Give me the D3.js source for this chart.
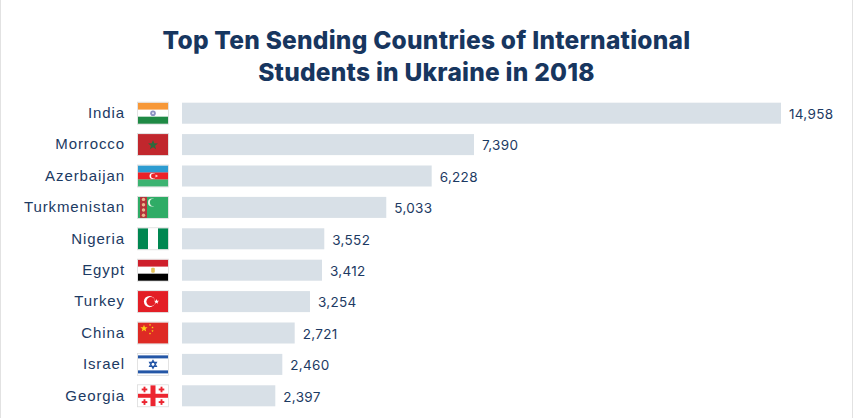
<!DOCTYPE html>
<html lang="en">
<head>
  <meta charset="UTF-8">
  <title>Top Ten Sending Countries of International Students in Ukraine in 2018</title>
  <script src="https://d3js.org/d3.v7.min.js"></script>
  <style>
    html, body { margin: 0; padding: 0; background: #fff; overflow: hidden; }
    svg { display: block; font-family: Inter, "Open Sans", sans-serif; }
    .title { font-size: 24.5px; font-weight: 800; fill: #17365f; text-anchor: middle; letter-spacing: 0.24px; }
    .axis text { font-size: 15px; font-weight: 500; fill: #1c3a63; letter-spacing: 0.9px; }
    .value { font-size: 13.5px; fill: #1c3a63; letter-spacing: 0.3px; }
  </style>
</head>
<body>
  <div id="chart"></div>
  <script>
    const countries = ["India", "Morrocco", "Azerbaijan", "Turkmenistan", "Nigeria", "Egypt", "Turkey", "China", "Israel", "Georgia"];
    // printed labels
    const students = [14958, 7390, 6228, 5033, 3552, 3412, 3254, 2721, 2460, 2397];
    // the bars in the original are not quite in proportion to their labels,
    // so the drawn lengths are read off the picture separately
    const barLengths = [14958, 7292, 6235, 5101, 3553, 3496, 3196, 2814, 2505, 2330];
    const titleLines = ["Top Ten Sending Countries of International", "Students in Ukraine in 2018"];

    const width = 854, height = 418;
    const flagW = 30, flagH = 21;

    const svg = d3.select("#chart").append("svg")
      .attr("width", width)
      .attr("height", height);

    // thin frame lines at the page edges
    svg.append("rect").attr("x", 0).attr("y", 0).attr("width", 1).attr("height", height).attr("fill", "#e2e2e2");
    svg.append("rect").attr("x", 852).attr("y", 0).attr("width", 1).attr("height", height).attr("fill", "#e2e2e2");

    svg.selectAll(".title")
      .data(titleLines)
      .enter().append("text")
      .attr("class", "title")
      .attr("x", 426.5)
      .attr("y", (d, i) => 49 + i * 32)
      .text(d => d);

    const x = d3.scaleLinear().domain([0, 14958]).range([182, 781]);
    const y = d3.scaleBand().domain(countries).range([97.5, 411.5]).paddingInner(0.33).paddingOuter(0.165);

    const axis = svg.append("g")
      .attr("class", "axis")
      .attr("transform", "translate(125,0)")
      .call(d3.axisLeft(y).tickSize(0).tickPadding(0));
    axis.select(".domain").remove();
    axis.selectAll("text").attr("dy", "0.32em");

    svg.selectAll(".bar")
      .data(countries)
      .enter().append("rect")
      .attr("class", "bar")
      .attr("x", x(0))
      .attr("y", d => y(d))
      .attr("width", (d, i) => x(barLengths[i]) - x(0))
      .attr("height", y.bandwidth())
      .attr("fill", "#d8e0e7");

    svg.selectAll(".value")
      .data(countries)
      .enter().append("text")
      .attr("class", "value")
      .attr("x", (d, i) => x(barLengths[i]) + 8)
      .attr("y", d => y(d) + y.bandwidth() / 2 + 1)
      .attr("dy", "0.35em")
      .text((d, i) => d3.format(",")(students[i]));

    // helpers for the little flags, all in a 30x21 box
    function stripes(g, colors) {
      const h = d3.scaleBand().domain(d3.range(colors.length)).range([0, flagH]);
      colors.forEach((c, i) => g.append("rect").attr("y", h(i)).attr("width", flagW).attr("height", h.bandwidth() + 0.2).attr("fill", c));
    }
    function vstripes(g, colors) {
      const w = d3.scaleBand().domain(d3.range(colors.length)).range([0, flagW]);
      colors.forEach((c, i) => g.append("rect").attr("x", w(i)).attr("width", w.bandwidth() + 0.2).attr("height", flagH).attr("fill", c));
    }
    function star(g, cx, cy, r, fill, points) {
      const n = points || 5;
      const pts = d3.range(n * 2).map(i => {
        const rad = i % 2 ? r * 0.42 : r;
        const a = -Math.PI / 2 + i * Math.PI / n;
        return [cx + rad * Math.cos(a), cy + rad * Math.sin(a)];
      });
      g.append("polygon").attr("points", pts.join(" ")).attr("fill", fill);
    }
    function crescent(g, cx, cy, r, cut, dx, fill) {
      g.append("circle").attr("cx", cx).attr("cy", cy).attr("r", r).attr("fill", fill);
      g.append("circle").attr("cx", cx + dx).attr("cy", cy).attr("r", cut).attr("fill", g.attr("data-bg"));
    }
    function cross(g, cx, cy, r, t, fill) {
      g.append("rect").attr("x", cx - r).attr("y", cy - t / 2).attr("width", 2 * r).attr("height", t).attr("fill", fill);
      g.append("rect").attr("x", cx - t / 2).attr("y", cy - r).attr("width", t).attr("height", 2 * r).attr("fill", fill);
    }

    const flagDrawers = {
      India(g) {
        stripes(g, ["#f79838", "#ffffff", "#1f8a45"]);
        g.append("circle").attr("cx", 15).attr("cy", 10.5).attr("r", 2.8).attr("fill", "#8d92c4");
        g.append("circle").attr("cx", 15).attr("cy", 10.5).attr("r", 1).attr("fill", "#e8e8f4");
      },
      Morrocco(g) {
        stripes(g, ["#c1272d"]);
        star(g, 15, 11, 5.2, "#2c6a3c");
      },
      Azerbaijan(g) {
        stripes(g, ["#2d9cd1", "#ec2227", "#3cb371"]);
        g.attr("data-bg", "#ec2227");
        crescent(g, 14.5, 10.5, 3, 2.4, 0.9, "#ffffff");
        star(g, 18.5, 10.5, 1.5, "#ffffff", 8);
      },
      Turkmenistan(g) {
        stripes(g, ["#2fac66"]);
        g.append("rect").attr("x", 2).attr("width", 7).attr("height", flagH).attr("fill", "#b5333a");
        d3.range(4).forEach(i => g.append("circle").attr("cx", 5.5).attr("cy", 2.5 + i * 5.3).attr("r", 1.7).attr("fill", "#e9b98c"));
        g.attr("data-bg", "#2fac66");
        crescent(g, 14, 5.5, 4, 3.6, 1.5, "#e8f5e8");
      },
      Nigeria(g) {
        vstripes(g, ["#008751", "#ffffff", "#008751"]);
      },
      Egypt(g) {
        stripes(g, ["#ce1f2b", "#ffffff", "#000000"]);
        g.append("rect").attr("x", 13.2).attr("y", 8).attr("width", 3.6).attr("height", 5).attr("rx", 1).attr("fill", "#e4c35c");
      },
      Turkey(g) {
        stripes(g, ["#e31e26"]);
        g.attr("data-bg", "#e31e26");
        crescent(g, 11.5, 10.5, 5.6, 4.5, 1.4, "#ffffff");
        star(g, 18.5, 10.5, 2.7, "#ffffff");
      },
      China(g) {
        stripes(g, ["#de2a24"]);
        star(g, 6, 6, 3.8, "#fcd116");
        [[12, 2.5], [14.5, 5], [14.5, 8.5], [12, 11]].forEach(p => star(g, p[0], p[1], 1.2, "#fcd116"));
      },
      Israel(g) {
        stripes(g, ["#ffffff"]);
        g.append("rect").attr("y", 1.5).attr("width", flagW).attr("height", 3).attr("fill", "#2456a6");
        g.append("rect").attr("y", 16.5).attr("width", flagW).attr("height", 3).attr("fill", "#2456a6");
        [[15, 6.5, 11.5, 12.5, 18.5, 12.5], [15, 14.5, 11.5, 8.5, 18.5, 8.5]].forEach(p =>
          g.append("polygon").attr("points", p.join(" ")).attr("fill", "none").attr("stroke", "#2456a6").attr("stroke-width", 1.1));
      },
      Georgia(g) {
        stripes(g, ["#ffffff"]);
        g.append("rect").attr("x", 12.5).attr("width", 5).attr("height", flagH).attr("fill", "#ec2530");
        g.append("rect").attr("y", 8.5).attr("width", flagW).attr("height", 4).attr("fill", "#ec2530");
        [[6.5, 4.2], [23.5, 4.2], [6.5, 16.8], [23.5, 16.8]].forEach(p => cross(g, p[0], p[1], 2.8, 1.9, "#ec2530"));
      }
    };

    svg.selectAll(".flag")
      .data(countries)
      .enter().append("g")
      .attr("class", "flag")
      .attr("transform", d => `translate(138,${y(d)})`)
      .each(function(d) {
        const g = d3.select(this);
        flagDrawers[d](g);
        g.append("rect").attr("x", -0.5).attr("y", -0.5).attr("width", flagW + 1).attr("height", flagH + 1)
          .attr("fill", "none").attr("stroke", "#dcdcdc").attr("stroke-width", 0.8);
      });
  </script>
</body>
</html>
